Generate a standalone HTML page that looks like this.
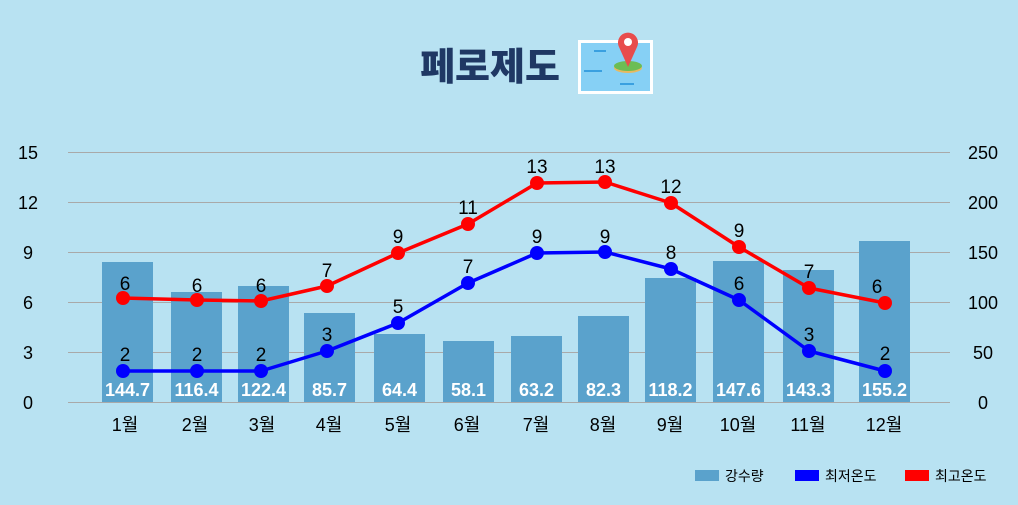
<!DOCTYPE html>
<html><head><meta charset="utf-8"><style>
html,body{margin:0;padding:0;background:#b8e2f2;}
svg{display:block;font-family:"Liberation Sans","Noto Sans CJK KR",sans-serif;}
</style></head><body>
<svg width="1018" height="505" viewBox="0 0 1018 505">
<rect width="1018" height="505" fill="#b8e2f2"/>
<text x="490" y="80" text-anchor="middle" font-size="38" font-weight="900" fill="#1f3864" font-family="'Noto Sans CJK KR',sans-serif">페로제도</text>
<rect x="578" y="40" width="75" height="54" fill="#fff"/>
<rect x="581" y="43" width="69" height="48" fill="#86d0f5"/>
<g stroke="#3aa0e0" stroke-width="2" fill="none"><path d="M594 51h12M584 71h18M620 84h14"/></g>
<ellipse cx="628" cy="68" rx="14" ry="5" fill="#e8b960"/>
<ellipse cx="628" cy="66" rx="14" ry="5" fill="#6cbd54"/>
<path d="M628 67 L619 47 A10 10 0 1 1 637 47 Z" fill="#e84c4c"/>
<circle cx="628" cy="42" r="4" fill="#fff"/>
<g stroke="#a9a9a9" stroke-width="1">
<line x1="68" y1="152.5" x2="950" y2="152.5"/><line x1="68" y1="202.5" x2="950" y2="202.5"/>
<line x1="68" y1="252.5" x2="950" y2="252.5"/><line x1="68" y1="302.5" x2="950" y2="302.5"/>
<line x1="68" y1="352.5" x2="950" y2="352.5"/><line x1="68" y1="402.5" x2="950" y2="402.5"/>
</g>
<g font-size="18" fill="#000" text-anchor="middle">
<text x="28" y="159">15</text><text x="28" y="209">12</text><text x="28" y="259">9</text>
<text x="28" y="309">6</text><text x="28" y="359">3</text><text x="28" y="409">0</text>
<text x="983" y="159">250</text><text x="983" y="209">200</text><text x="983" y="259">150</text>
<text x="983" y="309">100</text><text x="983" y="359">50</text><text x="983" y="409">0</text>
</g>
<g fill="#5aa2cc">
<rect x="102" y="262" width="51" height="140"/><rect x="171" y="292" width="51" height="110"/>
<rect x="238" y="286" width="51" height="116"/><rect x="304" y="313" width="51" height="89"/>
<rect x="374" y="334" width="51" height="68"/><rect x="443" y="341" width="51" height="61"/>
<rect x="511" y="336" width="51" height="66"/><rect x="578" y="316" width="51" height="86"/>
<rect x="645" y="278" width="51" height="124"/><rect x="713" y="261" width="51" height="141"/>
<rect x="783" y="270" width="51" height="132"/><rect x="859" y="241" width="51" height="161"/>
</g>
<g font-size="18" font-weight="bold" fill="#fff" text-anchor="middle">
<text x="127.5" y="396">144.7</text><text x="196.5" y="396">116.4</text><text x="263.5" y="396">122.4</text>
<text x="329.5" y="396">85.7</text><text x="399.5" y="396">64.4</text><text x="468.5" y="396">58.1</text>
<text x="536.5" y="396">63.2</text><text x="603.5" y="396">82.3</text><text x="670.5" y="396">118.2</text>
<text x="738.5" y="396">147.6</text><text x="808.5" y="396">143.3</text><text x="884.5" y="396">155.2</text>
</g>
<polyline fill="none" stroke="#ff0000" stroke-width="3.5" stroke-linejoin="round" points="123,298 197,300 261,301 327,286 398,253 468,224 537,183 605,182 671,203 739,247 809,288 885,303"/>
<polyline fill="none" stroke="#0000ff" stroke-width="3.5" stroke-linejoin="round" points="123,371 197,371 261,371 327,351 398,323 468,283 537,253 605,252 671,269 739,300 809,351 885,371"/>
<g fill="#ff0000"><circle cx="123" cy="298" r="7"/><circle cx="197" cy="300" r="7"/><circle cx="261" cy="301" r="7"/><circle cx="327" cy="286" r="7"/><circle cx="398" cy="253" r="7"/><circle cx="468" cy="224" r="7"/><circle cx="537" cy="183" r="7"/><circle cx="605" cy="182" r="7"/><circle cx="671" cy="203" r="7"/><circle cx="739" cy="247" r="7"/><circle cx="809" cy="288" r="7"/><circle cx="885" cy="303" r="7"/></g>
<g fill="#0000ff"><circle cx="123" cy="371" r="7"/><circle cx="197" cy="371" r="7"/><circle cx="261" cy="371" r="7"/><circle cx="327" cy="351" r="7"/><circle cx="398" cy="323" r="7"/><circle cx="468" cy="283" r="7"/><circle cx="537" cy="253" r="7"/><circle cx="605" cy="252" r="7"/><circle cx="671" cy="269" r="7"/><circle cx="739" cy="300" r="7"/><circle cx="809" cy="351" r="7"/><circle cx="885" cy="371" r="7"/></g>
<g font-size="19" fill="#000" text-anchor="middle">
<text x="125" y="290">6</text><text x="197" y="292">6</text><text x="261" y="292">6</text><text x="327" y="277">7</text>
<text x="398" y="243">9</text><text x="468" y="214">11</text><text x="537" y="173">13</text><text x="605" y="173">13</text>
<text x="671" y="193">12</text><text x="739" y="237">9</text><text x="809" y="278">7</text><text x="877" y="293">6</text>
<text x="125" y="361">2</text><text x="197" y="361">2</text><text x="261" y="361">2</text><text x="327" y="341">3</text>
<text x="398" y="313">5</text><text x="468" y="273">7</text><text x="537" y="243">9</text><text x="605" y="243">9</text>
<text x="671" y="259">8</text><text x="739" y="290">6</text><text x="809" y="341">3</text><text x="885" y="360">2</text>
</g>
<g font-size="18" fill="#000" text-anchor="middle">
<text x="125" y="431">1월</text><text x="195" y="431">2월</text><text x="262" y="431">3월</text><text x="329" y="431">4월</text>
<text x="398" y="431">5월</text><text x="467" y="431">6월</text><text x="536" y="431">7월</text><text x="603" y="431">8월</text>
<text x="670" y="431">9월</text><text x="738" y="431">10월</text><text x="808" y="431">11월</text><text x="884" y="431">12월</text>
</g>
<g font-size="14" fill="#000">
<rect x="695" y="470" width="24" height="11" fill="#5aa2cc"/><text x="725" y="481">강수량</text>
<rect x="795" y="470" width="24" height="11" fill="#0000ff"/><text x="825" y="481">최저온도</text>
<rect x="905" y="470" width="24" height="11" fill="#ff0000"/><text x="935" y="481">최고온도</text>
</g>
</svg>
</body></html>
